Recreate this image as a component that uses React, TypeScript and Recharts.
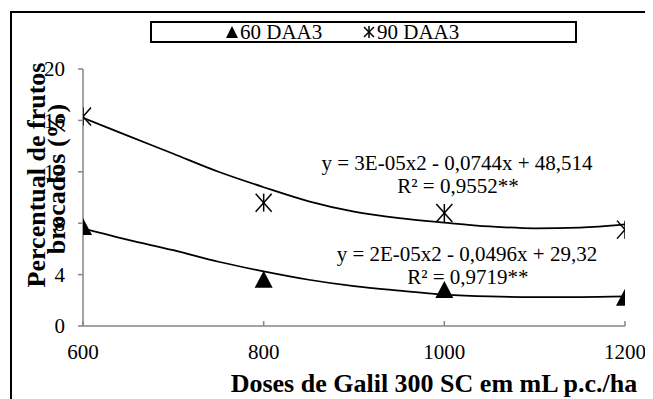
import React from 'react';
import { ComposedChart, Line, Scatter, XAxis, YAxis, ReferenceDot } from 'recharts';

const doses = [600, 800, 1000, 1200];
const daa60 = [7.7, 3.6, 2.8, 2.2];
const daa90 = [16.3, 9.6, 8.8, 7.5];

const trendDoses = [600, 650, 700, 750, 800, 850, 900, 950, 1000, 1050, 1100, 1150, 1200];
const trend60 = [7.6, 6.7, 5.9, 5.0, 4.25, 3.6, 3.1, 2.75, 2.45, 2.3, 2.25, 2.25, 2.3];
const trend90 = [16.2, 14.8, 13.4, 12.0, 10.8, 9.7, 8.9, 8.4, 8.05, 7.75, 7.6, 7.65, 7.9];

const xTicks = [600, 800, 1000, 1200];
const yTicks = [0, 4, 8, 12, 16, 20];
const seriesNames = ['60 DAA3', '90 DAA3'];
const eq60 = ['y = 2E-05x2 - 0,0496x + 29,32', 'R² = 0,9719**'];
const eq90 = ['y = 3E-05x2 - 0,0744x + 48,514', 'R² = 0,9552**'];
const eqAnchor60 = { dose: 1025, v: 5.6 };
const eqAnchor90 = { dose: 1014, v: 12.68 };
const yTitle = ['Percentual de frutos', 'brocados (%)'];
const xTitle = 'Doses de Galil 300 SC em mL p.c./ha';

const FONT = '"Liberation Serif", "Times New Roman", serif';
const AXIS = '#868686';

const rows = (xs: number[], vs: number[]) => xs.map((d, i) => ({ dose: d, v: vs[i] }));
const pts60 = rows(doses, daa60);
const pts90 = rows(doses, daa90);
const tr60 = rows(trendDoses, trend60);
const tr90 = rows(trendDoses, trend90);

const Triangle = (p: any) => {
  const { cx, cy } = p;
  return <polygon points={`${cx},${cy - 9} ${cx - 9},${cy + 8} ${cx + 9},${cy + 8}`} fill="#000" />;
};
const Star = (p: any) => {
  const { cx, cy } = p;
  return (
    <g stroke="#000" strokeWidth={1.5}>
      <line x1={cx - 8} y1={cy - 9} x2={cx + 8} y2={cy + 9} />
      <line x1={cx - 8} y1={cy + 9} x2={cx + 8} y2={cy - 9} />
      <line x1={cx} y1={cy - 9} x2={cx} y2={cy + 9} />
    </g>
  );
};

const XTick = (p: any) => {
  const { x, y, payload } = p;
  return (
    <g>
      <line x1={x} x2={x} y1={y} y2={y - 5} stroke={AXIS} strokeWidth={1.5} />
      <text x={x} y={y + 33} textAnchor="middle" fontFamily={FONT} fontSize={21} fill="#000">
        {payload.value}
      </text>
    </g>
  );
};

const YTick = (p: any) => {
  const { x, y, payload } = p;
  return (
    <text x={x - 13} y={y} dy="0.35em" textAnchor="end" fontFamily={FONT} fontSize={21} fill="#000">
      {payload.value}
    </text>
  );
};

const eqShape = (lines: string[]) => (p: any) => {
  const { cx, cy } = p;
  return (
    <g>
      {lines.map((t, i) => (
        <text key={i} x={cx + i} y={cy + 7 + i * 23} textAnchor="middle" fontFamily={FONT} fontSize={21} fill="#000">
          {t}
        </text>
      ))}
    </g>
  );
};

const YTitle = () => (
  <g>
    <text x={28} y={167} transform="rotate(-90 28 167)" textAnchor="middle" dominantBaseline="central"
      fontFamily={FONT} fontSize={26} fontWeight="bold" fill="#000">{yTitle[0]}</text>
    <text x={48} y={171} transform="rotate(-90 48 171)" textAnchor="middle" dominantBaseline="central"
      fontFamily={FONT} fontSize={26} fontWeight="bold" fill="#000">{yTitle[1]}</text>
  </g>
);

const XTitle = () => (
  <text x={426} y={384} textAnchor="middle" fontFamily={FONT} fontSize={26} fontWeight="bold" fill="#000">{xTitle}</text>
);

export default function App() {
  return (
    <div style={{ position: 'relative', width: 645, height: 391, overflow: 'hidden', background: '#fff' }}>
      <style>{'html,body{overflow:hidden}'}</style>
      <div style={{ position: 'absolute', left: 2, top: 3, width: 700, height: 500, borderLeft: '2px solid #000', borderTop: '2px solid #000' }} />
      <ComposedChart width={645} height={391} margin={{ top: 61, right: 28, left: 0, bottom: 0 }}>
        <XAxis type="number" dataKey="dose" domain={[600, 1200]} ticks={xTicks} allowDataOverflow
          height={73} tickSize={0} tickMargin={0} tick={<XTick />} tickLine={false}
          axisLine={{ stroke: AXIS, strokeWidth: 1.5 }} label={<XTitle />} />
        <YAxis type="number" dataKey="v" domain={[0, 20]} ticks={yTicks} allowDataOverflow width={75}
          tickSize={5} tickMargin={0} tickLine={{ stroke: AXIS, strokeWidth: 1.5 }}
          axisLine={{ stroke: AXIS, strokeWidth: 1.5 }}
          tick={<YTick />} label={<YTitle />} />
        <Line data={tr90} dataKey="v" type="monotone" stroke="#000" strokeWidth={1.75} dot={false} isAnimationActive={false} />
        <Line data={tr60} dataKey="v" type="monotone" stroke="#000" strokeWidth={1.75} dot={false} isAnimationActive={false} />
        <Scatter data={pts90} dataKey="v" shape={<Star />} isAnimationActive={false} name={seriesNames[1]} />
        <Scatter data={pts60} dataKey="v" shape={<Triangle />} isAnimationActive={false} name={seriesNames[0]} />
        <ReferenceDot x={eqAnchor90.dose} y={eqAnchor90.v} r={0} shape={eqShape(eq90)} />
        <ReferenceDot x={eqAnchor60.dose} y={eqAnchor60.v} r={0} shape={eqShape(eq60)} />
      </ComposedChart>
      <div style={{ position: 'absolute', left: 142, top: 13, width: 423, height: 18, border: '2px solid #000', fontFamily: FONT, fontSize: 21, lineHeight: '18px' }}>
        <div style={{ position: 'absolute', left: 73, top: 0, display: 'flex', alignItems: 'center', height: 18, whiteSpace: 'nowrap' }}>
          <svg width={14} height={14} style={{ marginRight: 1 }}><polygon points="7,1 1,13 13,13" fill="#000" /></svg>
          <span>{seriesNames[0]}</span>
        </div>
        <div style={{ position: 'absolute', left: 210, top: 0, display: 'flex', alignItems: 'center', height: 18, whiteSpace: 'nowrap' }}>
          <svg width={14} height={14} style={{ marginRight: 1 }}>
            <g stroke="#000" strokeWidth={1.5}><line x1={2} y1={2} x2={12} y2={12} /><line x1={2} y1={12} x2={12} y2={2} /><line x1={7} y1={1} x2={7} y2={13} /></g>
          </svg>
          <span>{seriesNames[1]}</span>
        </div>
      </div>
    </div>
  );
}
